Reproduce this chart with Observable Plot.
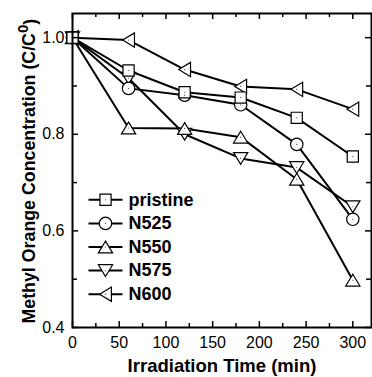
<!DOCTYPE html>
<html><head><meta charset="utf-8">
<script src="https://cdn.jsdelivr.net/npm/d3@7"></script>
<script src="https://cdn.jsdelivr.net/npm/@observablehq/plot@0.6"></script>
<style>body{margin:0;background:#fff} svg{display:block;overflow:visible}</style>
</head><body><div id="chart"></div>
<script>
const times = [0, 60, 120, 180, 240, 300];
const pristine = [1.0, 0.932, 0.887, 0.876, 0.834, 0.754];
const n525 = [1.0, 0.895, 0.881, 0.861, 0.779, 0.624];
const n550 = [1.0, 0.813, 0.812, 0.794, 0.707, 0.498];
const n575 = [1.0, 0.916, 0.800, 0.750, 0.731, 0.650];
const n600 = [1.0, 0.995, 0.934, 0.899, 0.893, 0.852];
const seriesNames = ["pristine", "N525", "N550", "N575", "N600"];
const seriesValues = [pristine, n525, n550, n575, n600];
const xTicks = [0, 50, 100, 150, 200, 250, 300];
const xMinor = [25, 75, 125, 175, 225, 275];
const yTicks = [0.4, 0.6, 0.8, 1.0];
const yMinor = [0.5, 0.7, 0.9];
const xTitle = "Irradiation Time (min)";
const yTitle = "Methyl Orange Concentration (C/C";

const W = 372, H = 377, mL = 72, mT = 13, mR = 1, mB = 50;
const FH = H - mT - mB, FW = W - mL - mR;

const rows = [];
seriesValues.forEach((s, i) => times.forEach((t, j) => rows.push({series: seriesNames[i], t, v: s[j]})));

const rad = s => Math.sqrt(s / Math.PI);
const triUp = {draw(c, s) { const r = rad(s), hw = 1.15 * r, h = 1.9 * r; c.moveTo(0, -h / 2); c.lineTo(hw, h / 2); c.lineTo(-hw, h / 2); c.closePath(); }};
const triDown = {draw(c, s) { const r = rad(s), hw = 1.15 * r, h = 1.9 * r; c.moveTo(0, h / 2); c.lineTo(hw, -h / 2); c.lineTo(-hw, -h / 2); c.closePath(); }};
const triLeft = {draw(c, s) { const r = rad(s), hw = 1.15 * r, h = 1.9 * r; c.moveTo(-h / 2, 0); c.lineTo(h / 2, -hw); c.lineTo(h / 2, hw); c.closePath(); }};
const square = {draw(c, s) { const r = rad(s) * 0.9; c.rect(-r, -r, 2 * r, 2 * r); }};
const hline = {draw(c, s) { const r = rad(s); c.moveTo(-r, 0); c.lineTo(r, 0); }};
const symbols = [square, "circle", triUp, triDown, triLeft];

const marks = [];
marks.push(Plot.line(rows, {x: "t", y: "v", z: "series", stroke: "black", strokeWidth: 2}));
for (let i = seriesNames.length - 1; i >= 0; i--) {
  marks.push(Plot.dot(rows.filter(d => d.series === seriesNames[i]), {x: "t", y: "v", symbol: symbols[i], r: 6.2, fill: "white", stroke: "black", strokeWidth: 1.2}));
}
marks.push(Plot.dot(rows, {x: "t", y: "v", r: 0.6, fill: "#444", stroke: "none"}));
// inward ticks
marks.push(Plot.tickX(xTicks, {x: d => d, insetTop: FH - 6, stroke: "black", strokeWidth: 1.5}));
marks.push(Plot.tickX(xMinor, {x: d => d, insetTop: FH - 4, stroke: "black", strokeWidth: 1.5}));
marks.push(Plot.tickX(xTicks, {x: d => d, insetBottom: FH - 6, stroke: "black", strokeWidth: 1.5}));
marks.push(Plot.tickX(xMinor, {x: d => d, insetBottom: FH - 4, stroke: "black", strokeWidth: 1.5}));
marks.push(Plot.tickY(yTicks, {y: d => d, insetRight: FW - 6, stroke: "black", strokeWidth: 1.5}));
marks.push(Plot.tickY(yMinor, {y: d => d, insetRight: FW - 5, stroke: "black", strokeWidth: 1.5}));
marks.push(Plot.tickY(yTicks, {y: d => d, insetLeft: FW - 6, stroke: "black", strokeWidth: 1.5}));
marks.push(Plot.tickY(yMinor, {y: d => d, insetLeft: FW - 5, stroke: "black", strokeWidth: 1.5}));
marks.push(Plot.frame({stroke: "black", strokeWidth: 2}));
marks.push(Plot.axisX({ticks: xTicks, tickSize: 0, tickPadding: 9, tickFormat: d => String(d), fontSize: 16, label: null}));
marks.push(Plot.axisY({ticks: yTicks, tickSize: 0, tickPadding: 8, tickFormat: d => d.toFixed(1), fontSize: 16, label: null}));
marks.push(Plot.text([xTitle], {frameAnchor: "bottom", dy: 39, textAnchor: "middle", lineAnchor: "middle", fontSize: 18.5, fontWeight: "bold", fill: "black"}));
marks.push(Plot.text([yTitle], {frameAnchor: "bottom-left", dx: -43, dy: -4, rotate: -90, textAnchor: "start", lineAnchor: "middle", fontSize: 17.8, fontWeight: "bold", fill: "black"}));
// legend
seriesNames.forEach((n, i) => {
  const dy = 186.3 + i * 23.6;
  marks.push(Plot.dot([n], {frameAnchor: "top-left", dx: 33, dy, symbol: hline, r: 17, fill: "none", stroke: "black", strokeWidth: 2}));
  marks.push(Plot.dot([n], {frameAnchor: "top-left", dx: 33, dy, symbol: symbols[i], r: 6.2, fill: "white", stroke: "black", strokeWidth: 1.2}));
  marks.push(Plot.dot([n], {frameAnchor: "top-left", dx: 33, dy, r: 0.6, fill: "#444", stroke: "none"}));
  marks.push(Plot.text([n], {frameAnchor: "top-left", dx: 56, dy, text: d => d, textAnchor: "start", lineAnchor: "middle", fontSize: 18, fontWeight: "bold", fill: "black"}));
});

const plot = Plot.plot({
  width: W, height: H,
  marginLeft: mL, marginTop: mT, marginRight: mR, marginBottom: mB,
  style: {fontFamily: "'Liberation Sans', Arial, sans-serif", fontSize: "16px", color: "black", background: "white", overflow: "visible"},
  x: {domain: [0, 320]},
  y: {domain: [0.4, 1.05]},
  marks
});
document.getElementById("chart").appendChild(plot);
// superscript 0 in y title
const t = Array.from(plot.querySelectorAll("text")).find(e => e.textContent === yTitle);
if (t) {
  const base = t.textContent;
  while (t.firstChild) t.removeChild(t.firstChild);
  const ns = "http://www.w3.org/2000/svg";
  const a = document.createElementNS(ns, "tspan"); a.textContent = base; t.appendChild(a);
  const b = document.createElementNS(ns, "tspan"); b.textContent = "0"; b.setAttribute("dy", "-0.45em"); b.setAttribute("font-size", "15"); t.appendChild(b);
  const c = document.createElementNS(ns, "tspan"); c.textContent = ")"; c.setAttribute("dy", "0.45em"); t.appendChild(c);
}
</script></body></html>
